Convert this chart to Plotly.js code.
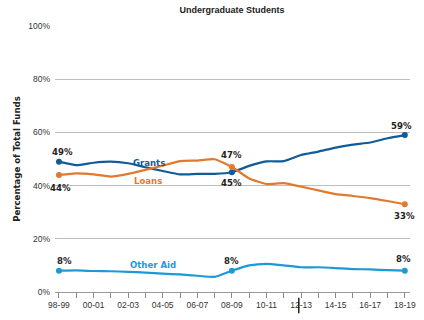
<!DOCTYPE html>
<html>
<head>
<meta charset="utf-8">
<script src="https://cdn.plot.ly/plotly-3.0.1.min.js"></script>
<style>
  html, body { margin: 0; padding: 0; background: #fff; }
  #chart { width: 424px; height: 320px; }
</style>
</head>
<body>
<div id="chart"></div>
<script>
// Academic years shown along the x axis
const years = ['98-99','99-00','00-01','01-02','02-03','03-04','04-05','05-06','06-07','07-08',
               '08-09','09-10','10-11','11-12','12-13','13-14','14-15','15-16','16-17','17-18','18-19'];

// Share of total funds (%) by source
const grants   = [49, 47.7, 48.6, 49.0, 48.4, 46.9, 45.5, 44.2, 44.4, 44.4,
                  45, 47.4, 49.1, 49.2, 51.5, 52.8, 54.3, 55.4, 56.2, 57.8, 59];
const loans    = [44, 44.6, 44.2, 43.4, 44.4, 45.9, 47.5, 49.2, 49.4, 49.9,
                  47, 42.7, 40.6, 40.9, 39.6, 38.2, 36.8, 36.1, 35.3, 34.2, 33];
const otherAid = [8, 8.1, 7.9, 7.8, 7.6, 7.3, 6.9, 6.6, 6.1, 5.7,
                  8, 10.0, 10.6, 10.0, 9.3, 9.3, 9.0, 8.6, 8.5, 8.2, 8];

// Years whose values get a marker and a label
const labeledYears = ['98-99', '08-09', '18-19'];

const yTicks = [0, 20, 40, 60, 80, 100];
const yTickText = ['0%', '20%', '40%', '60%', '80%', '100%'];
const xTickText = years.map((y, i) => (i % 2 === 0 ? y : ''));

const C_GRANTS = '#0f5c98';
const C_LOANS = '#e3792f';
const C_OTHER = '#1c9ad6';

const narrow = '"DejaVu Sans Condensed", "Liberation Sans Narrow", "Roboto", sans-serif';
const plain = '"Liberation Sans", Arial, sans-serif';

function series(name, vals, color) {
  const idx = labeledYears.map(y => years.indexOf(y));
  return [
    {
      type: 'scatter', mode: 'lines', name: name,
      x: years, y: vals,
      line: { color: color, width: 2.2, shape: 'spline', smoothing: 0.45 },
      hoverinfo: 'skip'
    },
    {
      type: 'scatter', mode: 'markers', name: name,
      x: idx.map(i => years[i]), y: idx.map(i => vals[i]),
      marker: { color: color, size: 6 },
      hoverinfo: 'skip'
    }
  ];
}

const traces = [].concat(
  series('Grants', grants, C_GRANTS),
  series('Loans', loans, C_LOANS),
  series('Other Aid', otherAid, C_OTHER)
);

// Value labels: [series values, year, shift up in px, shift right in px]
const valueLabels = [
  [grants, '98-99', 10, 4], [grants, '08-09', -10, 0], [grants, '18-19', 10, -3],
  [loans, '98-99', -13, 2], [loans, '08-09', 12, 0], [loans, '18-19', -11, 0],
  [otherAid, '98-99', 10, 6], [otherAid, '08-09', 10, 0], [otherAid, '18-19', 12, -1]
];

const annotations = valueLabels.map(([vals, yr, up, dx]) => ({
  x: yr, y: vals[years.indexOf(yr)], xref: 'x', yref: 'y',
  text: '<b>' + Math.round(vals[years.indexOf(yr)]) + '%</b>',
  showarrow: false, xshift: dx, yshift: up,
  font: { family: narrow, size: 9.5, color: '#222' }
}));

// Series names placed beside their lines
annotations.push(
  { x: '05-06', y: grants[7], xref: 'x', yref: 'y', text: '<b>Grants</b>', showarrow: false,
    xshift: -31, yshift: 12, font: { family: narrow, size: 9.5, color: C_GRANTS } },
  { x: '05-06', y: loans[7], xref: 'x', yref: 'y', text: '<b>Loans</b>', showarrow: false,
    xshift: -32, yshift: -19, font: { family: narrow, size: 9.5, color: C_LOANS } },
  { x: '04-05', y: otherAid[6], xref: 'x', yref: 'y', text: '<b>Other Aid</b>', showarrow: false,
    xshift: -10, yshift: 9, font: { family: narrow, size: 9.5, color: C_OTHER } }
);

const layout = {
  width: 424, height: 320,
  margin: { l: 55, r: 14, t: 26, b: 28 },
  paper_bgcolor: '#fff', plot_bgcolor: '#fff',
  showlegend: false,
  title: {
    text: '<b>Undergraduate Students</b>',
    x: 0.547, xanchor: 'center', y: 0.97, yanchor: 'middle',
    font: { family: plain, size: 9, color: '#222' }
  },
  xaxis: {
    type: 'category',
    range: [-0.23, 20.3],
    tickmode: 'array', tickvals: years, ticktext: xTickText,
    ticks: 'outside', ticklen: 5, tickcolor: '#888', tickwidth: 1,
    showline: true, linecolor: '#999', linewidth: 1,
    showgrid: false, zeroline: false,
    tickfont: { family: plain, size: 8.5, color: '#333' },
    fixedrange: true
  },
  yaxis: {
    range: [0, 100],
    tickmode: 'array', tickvals: yTicks, ticktext: yTickText,
    showgrid: true, gridcolor: '#bdbdbd', gridwidth: 1,
    zeroline: false, showline: false, ticks: '',
    ticklabelstandoff: 4,
    tickfont: { family: plain, size: 8.5, color: '#333' },
    title: {
      text: '<b>Percentage of Total Funds</b>', standoff: 5,
      font: { family: narrow, size: 9.5, color: '#222' }
    },
    fixedrange: true
  },
  annotations: annotations,
  shapes: [
    { type: 'line', xref: 'x', yref: 'paper', x0: 13.87, x1: 13.87, y0: -0.022, y1: -0.08,
      line: { color: '#000', width: 1.3 } }
  ]
};

Plotly.newPlot('chart', traces, layout, { staticPlot: true, displayModeBar: false });
</script>
</body>
</html>
